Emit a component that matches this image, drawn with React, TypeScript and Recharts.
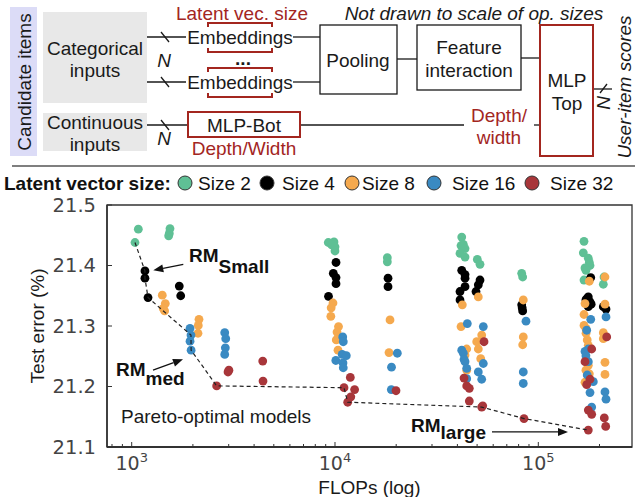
import React from 'react';
import { ScatterChart, Scatter, XAxis, YAxis, ReferenceLine, ReferenceDot, ReferenceArea } from 'recharts';

type Pt = { x: number; y: number };

// FLOPs (x) vs test error % (y)
const size2: Pt[] = [
  { x: 1078, y: 21.46 }, { x: 1038, y: 21.438 }, { x: 1543, y: 21.461 }, { x: 1531, y: 21.453 }, { x: 1520, y: 21.449 },
  { x: 9268, y: 21.438 }, { x: 9886, y: 21.439 }, { x: 9634, y: 21.434 }, { x: 10000, y: 21.431 }, { x: 10000, y: 21.424 },
  { x: 18089, y: 21.413 }, { x: 18089, y: 21.406 },
  { x: 42010, y: 21.447 }, { x: 42780, y: 21.435 }, { x: 41680, y: 21.433 }, { x: 43610, y: 21.428 }, { x: 41200, y: 21.42 },
  { x: 43610, y: 21.414 }, { x: 50120, y: 21.41 }, { x: 51680, y: 21.402 },
  { x: 82850, y: 21.387 }, { x: 83790, y: 21.381 },
  { x: 167800, y: 21.44 }, { x: 166500, y: 21.421 }, { x: 176200, y: 21.412 }, { x: 178200, y: 21.405 }, { x: 179600, y: 21.4 },
  { x: 169700, y: 21.396 }, { x: 171500, y: 21.392 }, { x: 167800, y: 21.376 },
  { x: 210500, y: 21.381 }, { x: 208800, y: 21.369 },
];

const size4: Pt[] = [
  { x: 1162, y: 21.391 }, { x: 1162, y: 21.379 }, { x: 1203, y: 21.347 }, { x: 1714, y: 21.366 }, { x: 1742, y: 21.35 },
  { x: 10114, y: 21.405 }, { x: 9809, y: 21.387 }, { x: 10114, y: 21.38 }, { x: 10114, y: 21.37 }, { x: 9290, y: 21.349 },
  { x: 18231, y: 21.379 }, { x: 18231, y: 21.365 },
  { x: 42010, y: 21.392 }, { x: 43610, y: 21.385 }, { x: 43610, y: 21.379 }, { x: 43610, y: 21.365 }, { x: 41200, y: 21.357 },
  { x: 41200, y: 21.343 }, { x: 51680, y: 21.376 }, { x: 50690, y: 21.368 }, { x: 49380, y: 21.357 },
  { x: 82850, y: 21.335 }, { x: 83300, y: 21.33 }, { x: 83790, y: 21.325 },
  { x: 181100, y: 21.38 }, { x: 176200, y: 21.348 }, { x: 173000, y: 21.345 }, { x: 171500, y: 21.343 }, { x: 179600, y: 21.34 },
  { x: 182000, y: 21.336 }, { x: 176200, y: 21.332 },
  { x: 208800, y: 21.332 }, { x: 215300, y: 21.328 },
];

const size8: Pt[] = [
  { x: 1414, y: 21.351 }, { x: 1463, y: 21.337 }, { x: 1430, y: 21.329 }, { x: 1452, y: 21.325 },
  { x: 2143, y: 21.311 }, { x: 2126, y: 21.301 }, { x: 2119, y: 21.288 },
  { x: 9775, y: 21.338 }, { x: 9576, y: 21.33 }, { x: 9540, y: 21.316 }, { x: 10405, y: 21.299 }, { x: 10233, y: 21.29 },
  { x: 10148, y: 21.277 }, { x: 10346, y: 21.26 },
  { x: 18647, y: 21.31 }, { x: 18437, y: 21.256 },
  { x: 42300, y: 21.335 }, { x: 50690, y: 21.348 }, { x: 41680, y: 21.299 }, { x: 52680, y: 21.285 }, { x: 49770, y: 21.274 },
  { x: 50690, y: 21.262 }, { x: 44450, y: 21.262 }, { x: 52090, y: 21.246 }, { x: 43610, y: 21.252 }, { x: 44450, y: 21.227 },
  { x: 84360, y: 21.343 }, { x: 84360, y: 21.282 }, { x: 83790, y: 21.269 },
  { x: 178200, y: 21.374 }, { x: 169700, y: 21.337 }, { x: 167800, y: 21.319 }, { x: 167800, y: 21.301 }, { x: 171500, y: 21.296 },
  { x: 171700, y: 21.288 }, { x: 174000, y: 21.277 }, { x: 176200, y: 21.268 }, { x: 176200, y: 21.235 }, { x: 171500, y: 21.227 },
  { x: 178200, y: 21.221 }, { x: 169700, y: 21.207 },
  { x: 212800, y: 21.381 }, { x: 212800, y: 21.336 }, { x: 208800, y: 21.289 }, { x: 208800, y: 21.279 }, { x: 212800, y: 21.24 },
  { x: 212800, y: 21.22 },
];

const size16: Pt[] = [
  { x: 1936, y: 21.296 }, { x: 1957, y: 21.285 }, { x: 1936, y: 21.275 }, { x: 1960, y: 21.26 },
  { x: 2868, y: 21.289 }, { x: 2901, y: 21.279 }, { x: 2888, y: 21.264 }, { x: 2868, y: 21.253 },
  { x: 10914, y: 21.282 }, { x: 10983, y: 21.274 }, { x: 10849, y: 21.253 }, { x: 11365, y: 21.251 }, { x: 10093, y: 21.243 },
  { x: 10949, y: 21.239 }, { x: 10983, y: 21.231 },
  { x: 20256, y: 21.255 }, { x: 18967, y: 21.232 }, { x: 18923, y: 21.195 },
  { x: 44750, y: 21.304 }, { x: 53640, y: 21.299 }, { x: 42010, y: 21.26 }, { x: 42780, y: 21.255 }, { x: 43120, y: 21.245 },
  { x: 43610, y: 21.241 }, { x: 44450, y: 21.23 }, { x: 53640, y: 21.238 }, { x: 50690, y: 21.224 }, { x: 52680, y: 21.212 },
  { x: 44450, y: 21.213 },
  { x: 86980, y: 21.308 }, { x: 84360, y: 21.224 }, { x: 84360, y: 21.205 },
  { x: 181100, y: 21.311 }, { x: 173000, y: 21.293 }, { x: 176200, y: 21.262 }, { x: 169700, y: 21.258 }, { x: 171500, y: 21.251 },
  { x: 176200, y: 21.241 }, { x: 174000, y: 21.219 }, { x: 186500, y: 21.208 }, { x: 179600, y: 21.19 }, { x: 183100, y: 21.166 },
  { x: 215300, y: 21.315 }, { x: 212800, y: 21.191 }, { x: 215300, y: 21.179 },
];

const size32: Pt[] = [
  { x: 2618, y: 21.201 }, { x: 2977, y: 21.224 }, { x: 3007, y: 21.227 }, { x: 4411, y: 21.242 }, { x: 4425, y: 21.209 },
  { x: 11893, y: 21.215 }, { x: 11074, y: 21.198 }, { x: 12487, y: 21.195 }, { x: 11960, y: 21.183 }, { x: 11547, y: 21.174 },
  { x: 19953, y: 21.193 },
  { x: 54080, y: 21.274 }, { x: 43120, y: 21.214 }, { x: 44450, y: 21.201 }, { x: 45780, y: 21.197 }, { x: 45780, y: 21.176 },
  { x: 52680, y: 21.166 }, { x: 53290, y: 21.168 },
  { x: 85040, y: 21.147 },
  { x: 183100, y: 21.262 }, { x: 169700, y: 21.241 }, { x: 179600, y: 21.212 }, { x: 173000, y: 21.203 }, { x: 176200, y: 21.161 },
  { x: 183100, y: 21.154 }, { x: 176200, y: 21.128 },
  { x: 217000, y: 21.282 }, { x: 211200, y: 21.148 }, { x: 214600, y: 21.134 },
];

const pareto: Pt[] = [
  { x: 1038, y: 21.438 }, { x: 1162, y: 21.391 }, { x: 1162, y: 21.379 }, { x: 1203, y: 21.347 },
  { x: 1957, y: 21.285 }, { x: 1960, y: 21.26 }, { x: 2618, y: 21.201 }, { x: 11074, y: 21.198 },
  { x: 11547, y: 21.174 }, { x: 52680, y: 21.166 }, { x: 85040, y: 21.147 }, { x: 176200, y: 21.128 },
];

const seriesNames = ['Size 2', 'Size 4', 'Size 8', 'Size 16', 'Size 32'];
const seriesColors = ['#5fc095', '#000000', '#f5a94e', '#3a8ac2', '#a8363a'];
const seriesData = [size2, size4, size8, size16, size32];

const xDomain = [756, 289000];
const yDomain = [21.1, 21.5];
const majorTicks = [1000, 10000, 100000];
const xTicks = [800, 900, 1000, 2000, 3000, 4000, 5000, 6000, 7000, 8000, 9000, 10000,
  20000, 30000, 40000, 50000, 60000, 70000, 80000, 90000, 100000, 200000];
const yTicks = [21.1, 21.2, 21.3, 21.4, 21.5];

const SANS = 'Liberation Sans, Arial, Helvetica, sans-serif';
const TICKFONT = 'DejaVu Sans, sans-serif';
const RED = '#a3261f';
const INK = '#1a1a1a';

const legendCircleX = [185, 267, 352, 434, 532];
const legendTextX = [198, 282, 362, 452, 550];

const XTick = (props: any) => {
  const { x, y, payload } = props;
  const v = payload.value;
  const major = majorTicks.includes(v);
  return (
    <g>
      <line x1={x} y1={y} x2={x} y2={y - (major ? 5 : 3)} stroke="#333" strokeWidth={1} />
      {major && (
        <text x={x} y={y + 23} textAnchor="middle" fontFamily={TICKFONT} fontSize={19} fill="#444">
          10<tspan dy={-8} fontSize={13}>{Math.round(Math.log10(v))}</tspan>
        </text>
      )}
    </g>
  );
};

const YTick = (props: any) => {
  const { x, y, payload } = props;
  return (
    <g>
      <line x1={x} y1={y} x2={x + 5} y2={y} stroke="#333" strokeWidth={1} />
      <text x={x - 11} y={y} textAnchor="end" dominantBaseline="central" fontFamily={TICKFONT} fontSize={19.5} fill="#444">
        {Number(payload.value).toFixed(1)}
      </text>
    </g>
  );
};

const dot = (color: string) => (p: any) => <circle cx={p.cx} cy={p.cy} r={4.4} fill={color} />;

const Arrow = (p: any) => {
  const { x1, y1, x2, y2 } = p;
  const a = Math.atan2(y2 - y1, x2 - x1);
  const L = 10, W = 4;
  const bx = x2 - L * Math.cos(a), by = y2 - L * Math.sin(a);
  const px = -Math.sin(a) * W, py = Math.cos(a) * W;
  return (
    <g>
      <line x1={x1} y1={y1} x2={bx} y2={by} stroke="#111" strokeWidth={1.3} />
      <polygon points={`${x2},${y2} ${bx + px},${by + py} ${bx - px},${by - py}`} fill="#111" />
    </g>
  );
};

const rmLabel = (sub: string, dy: number) => (p: any) => (
  <text x={p.cx} y={p.cy} fontFamily={SANS} fontSize={19} fontWeight="bold" fill="#111">
    RM<tspan dy={dy}>{sub}</tspan>
  </text>
);

const Diagram = () => (
  <svg width={644} height={200} style={{ position: 'absolute', left: 0, top: 0 }} fontFamily={SANS}>
    <rect x={10} y={7} width={27} height={149} fill="#dcdcf7" />
    <text transform="translate(24,82) rotate(-90)" textAnchor="middle" dominantBaseline="central" fontSize={19} fill={INK}>Candidate items</text>
    <rect x={43} y={12} width={104} height={91} fill="#e8e8e8" />
    <rect x={43} y={113} width={104} height={38} fill="#e8e8e8" />
    <g fontSize={19} fill={INK} textAnchor="middle" dominantBaseline="central">
      <text x={95} y={48}>Categorical</text>
      <text x={95} y={70}>inputs</text>
      <text x={95} y={122}>Continuous</text>
      <text x={95} y={144}>inputs</text>
      <text x={240} y={37}>Embeddings</text>
      <text x={240} y={82}>Embeddings</text>
      <text x={358} y={60}>Pooling</text>
      <text x={469} y={47}>Feature</text>
      <text x={469} y={70}>interaction</text>
      <text x={567} y={80}>MLP</text>
      <text x={567} y={103}>Top</text>
      <text x={244} y={125}>MLP-Bot</text>
      <text x={243} y={58} fontWeight="bold">...</text>
      <text x={164} y={60} fontStyle="italic">N</text>
      <text x={164} y={138} fontStyle="italic">N</text>
      <text transform="translate(603,103) rotate(-90)" fontStyle="italic">N</text>
      <text transform="translate(624,87) rotate(-90)" fontStyle="italic">User-item scores</text>
      <text x={474} y={13} fontStyle="italic">Not drawn to scale of op. sizes</text>
    </g>
    <g fontSize={19} fill={RED} textAnchor="middle" dominantBaseline="central">
      <text x={242} y={13}>Latent vec. size</text>
      <text x={244} y={148}>Depth/Width</text>
      <text x={499} y={115}>Depth/</text>
      <text x={499} y={137}>width</text>
    </g>
    <g stroke={INK} strokeWidth={1.3} fill="none">
      <line x1={147} y1={37} x2={186} y2={37} />
      <line x1={147} y1={82} x2={186} y2={82} />
      <line x1={147} y1={125} x2={188} y2={125} />
      <line x1={161} y1={32} x2={169} y2={42} />
      <line x1={161} y1={77} x2={169} y2={87} />
      <line x1={161} y1={120} x2={169} y2={130} />
      <line x1={293} y1={37} x2={320} y2={37} />
      <line x1={293} y1={82} x2={320} y2={82} />
      <rect x={320} y={25} width={77} height={69} />
      <line x1={397} y1={59} x2={417} y2={59} />
      <rect x={417} y={25} width={104} height={65} />
      <line x1={521} y1={58} x2={540} y2={58} />
      <line x1={300} y1={125} x2={464} y2={125} />
      <line x1={534} y1={125} x2={540} y2={125} />
      <line x1={593} y1={89} x2={612} y2={89} />
      <line x1={600} y1={93} x2={607} y2={84} />
    </g>
    <g stroke={RED} strokeWidth={2} fill="none">
      <path d="M208,27 V23 H272 V27" />
      <path d="M208,48 V52 H272 V48" />
      <path d="M208,72 V68 H272 V72" />
      <path d="M208,93 V97 H272 V93" />
      <rect x={188} y={112} width={112} height={25} />
      <rect x={540} y={25} width={53} height={131} />
    </g>
    <line x1={12} y1={166} x2={635} y2={166} stroke="#555" strokeWidth={1.5} />
    <g fontSize={19} fill="#111" dominantBaseline="central">
      <text x={4} y={183} fontWeight="bold">Latent vector size:</text>
      {seriesNames.map((n, i) => (
        <g key={n}>
          <circle cx={legendCircleX[i]} cy={183} r={7} fill={seriesColors[i]} stroke="#333" strokeWidth={1} />
          <text x={legendTextX[i]} y={183}>{n}</text>
        </g>
      ))}
    </g>
  </svg>
);

export default function App() {
  return (
    <div style={{ position: 'absolute', left: 0, top: 0, width: 644, height: 497, background: '#fff', overflow: 'hidden' }}>
      <Diagram />
      <div style={{ position: 'absolute', left: 0, top: 170 }}>
        <ScatterChart width={644} height={327} margin={{ top: 35, right: 12, bottom: 0, left: 0 }}>
          <XAxis
            dataKey="x" type="number" scale="log" domain={xDomain} ticks={xTicks} allowDataOverflow
            interval={0} height={50} tickSize={0} tickMargin={0} tickLine={false}
            axisLine={{ stroke: '#222', strokeWidth: 1.3 }} tick={<XTick />}
            label={{
              content: (p: any) => {
                const vb = p.viewBox;
                return (
                  <text x={vb.x + vb.width / 2} y={vb.y + 40} textAnchor="middle" dominantBaseline="central"
                    fontFamily={SANS} fontSize={19} fill={INK}>FLOPs (log)</text>
                );
              },
            }}
          />
          <YAxis
            dataKey="y" type="number" domain={yDomain} ticks={yTicks} allowDataOverflow
            interval={0} width={107} tickSize={0} tickMargin={0} tickLine={false}
            axisLine={{ stroke: '#222', strokeWidth: 1.3 }} tick={<YTick />}
            label={{
              content: (p: any) => {
                const vb = p.viewBox;
                return (
                  <text transform={`translate(37, ${vb.y + vb.height / 2}) rotate(-90)`} textAnchor="middle"
                    dominantBaseline="central" fontFamily={SANS} fontSize={19} fill={INK}>Test error (%)</text>
                );
              },
            }}
          />
          <ReferenceArea x1={xDomain[0]} x2={xDomain[1]} y1={yDomain[0]} y2={yDomain[1]}
            fillOpacity={0} stroke="#333" strokeWidth={1.3} ifOverflow="visible" />
          {seriesData.map((d, i) => (
            <Scatter key={seriesNames[i]} name={seriesNames[i]} data={d} fill={seriesColors[i]}
              shape={dot(seriesColors[i])} isAnimationActive={false} />
          ))}
          <Scatter name="pareto" data={pareto} isAnimationActive={false} shape={() => <g />}
            line={{ stroke: '#222', strokeWidth: 1.2, strokeDasharray: '4 3' }} lineType="joint" />
          <ReferenceLine segment={[{ x: 1794, y: 21.402 }, { x: 1277, y: 21.392 }]} shape={Arrow} ifOverflow="visible" />
          <ReferenceLine segment={[{ x: 1273, y: 21.227 }, { x: 1788, y: 21.245 }]} shape={Arrow} ifOverflow="visible" />
          <ReferenceLine segment={[{ x: 59190, y: 21.125 }, { x: 140000, y: 21.125 }]} shape={Arrow} ifOverflow="visible" />
          <ReferenceDot x={1913} y={21.4057} r={1} ifOverflow="visible" shape={rmLabel('Small', 11)} />
          <ReferenceDot x={837} y={21.217} r={1} ifOverflow="visible" shape={rmLabel('med', 9)} />
          <ReferenceDot x={23650} y={21.124} r={1} ifOverflow="visible" shape={rmLabel('large', 7)} />
          <ReferenceDot x={886} y={21.139} r={1} ifOverflow="visible"
            shape={(p: any) => <text x={p.cx} y={p.cy} fontFamily={SANS} fontSize={19} fill={INK}>Pareto-optimal models</text>} />
        </ScatterChart>
      </div>
    </div>
  );
}
